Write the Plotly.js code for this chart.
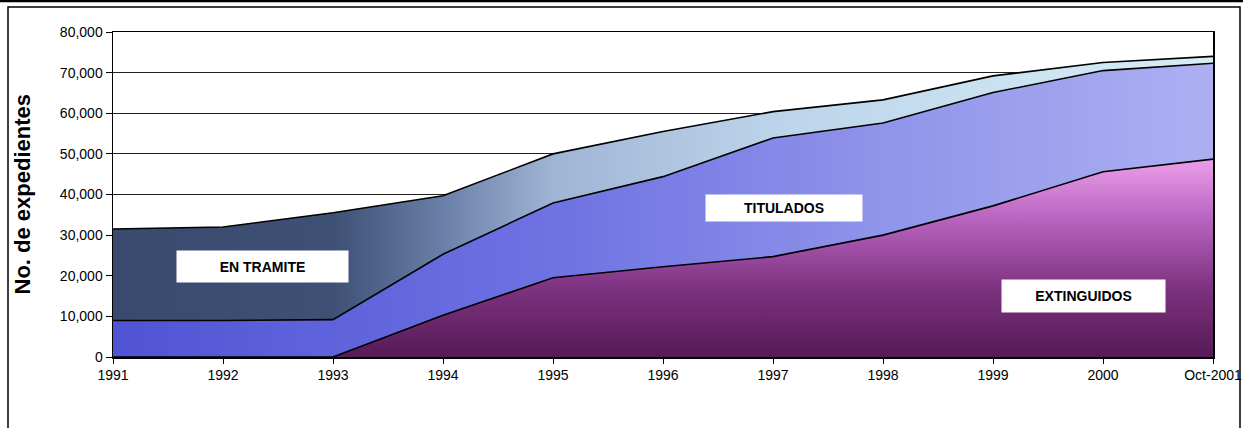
<!DOCTYPE html>
<html>
<head>
<meta charset="utf-8">
<script src="https://cdn.plot.ly/plotly-3.0.1.min.js"></script>
<style>html,body{margin:0;padding:0;background:#fff;}#chart{width:1243px;height:428px;}</style>
</head>
<body>
<div id="chart"></div>
<script>
var categories = ["1991","1992","1993","1994","1995","1996","1997","1998","1999","2000","Oct-2001"];
var extinguidos = [0, 0, 0, 10300, 19500, 22200, 24700, 30000, 37200, 45600, 48700];
var titulados   = [9000, 9000, 9200, 15000, 18400, 22200, 29200, 27600, 27900, 24900, 23600];
var enTramite   = [22500, 23000, 26300, 14400, 12100, 11100, 6500, 5700, 4100, 2000, 1700];
var yTickVals = [0,10000,20000,30000,40000,50000,60000,70000,80000];
var yTickText = ["0","10,000","20,000","30,000","40,000","50,000","60,000","70,000","80,000"];

var L = 113, R = 1213, T = 32, B = 357;
function px(x){ return (x - L) / (R - L); }
function py(y){ return (B - y) / (B - T); }

var lineStyle = {color:'#000', width:1.6, shape:'linear'};
var traces = [
  {x:categories, y:extinguidos, name:'EXTINGUIDOS', type:'scatter', mode:'lines', stackgroup:'one',
   line:lineStyle,
   fillgradient:{type:'vertical', colorscale:[[0,'#561b56'],[0.35,'#7e3280'],[0.7,'#b864c0'],[1,'#ec9eea']]}},
  {x:categories, y:titulados, name:'TITULADOS', type:'scatter', mode:'lines', stackgroup:'one',
   line:lineStyle,
   fillgradient:{type:'horizontal', colorscale:[[0,'#5054d4'],[0.4,'#6e72e2'],[0.7,'#9094ea'],[1,'#acb0f2']]}},
  {x:categories, y:enTramite, name:'EN TRAMITE', type:'scatter', mode:'lines', stackgroup:'one',
   line:lineStyle,
   fillgradient:{type:'horizontal', colorscale:[[0,'#3a4a6e'],[0.2,'#3e5074'],[0.3,'#6a80a8'],[0.4,'#a0b4d4'],[0.6,'#bcd4ea'],[1,'#d8eef6']]}}
];

var fontTick = {family:'Liberation Sans, Arial, sans-serif', size:14, color:'#000'};
var layout = {
  width:1243, height:428,
  margin:{l:L, r:1243-R, t:T, b:428-B, pad:0},
  paper_bgcolor:'#fff', plot_bgcolor:'#fff',
  showlegend:false,
  font:fontTick,
  xaxis:{type:'category', range:[0,10], showgrid:false, zeroline:false,
         showline:true, linecolor:'#000', linewidth:1.5, mirror:true,
         ticks:'outside', ticklen:5, tickcolor:'#000', tickfont:fontTick, fixedrange:true},
  yaxis:{range:[0,80000], tickvals:yTickVals, ticktext:yTickText,
         showgrid:true, gridcolor:'#222', gridwidth:1, zeroline:false,
         showline:true, linecolor:'#000', linewidth:1.5, mirror:true,
         ticks:'outside', ticklen:6, tickcolor:'#000', tickfont:fontTick, fixedrange:true},
  annotations:[
    {xref:'paper', yref:'paper', x:px(22), y:0.5, text:'<b>No. de expedientes</b>', textangle:-90,
     showarrow:false, xanchor:'center', yanchor:'middle',
     font:{family:'Liberation Sans, Arial, sans-serif', size:22, color:'#000'}},
    {xref:'paper', yref:'paper', x:px(262.5), y:py(266.5), text:'<b>EN TRAMITE</b>', showarrow:false,
     xanchor:'center', yanchor:'middle', bgcolor:'#fff', width:171, height:31, borderpad:0,
     font:{family:'Liberation Sans, Arial, sans-serif', size:14, color:'#000'}},
    {xref:'paper', yref:'paper', x:px(784), y:py(208), text:'<b>TITULADOS</b>', showarrow:false,
     xanchor:'center', yanchor:'middle', bgcolor:'#fff', width:156, height:26, borderpad:0,
     font:{family:'Liberation Sans, Arial, sans-serif', size:14, color:'#000'}},
    {xref:'paper', yref:'paper', x:px(1083.5), y:py(296), text:'<b>EXTINGUIDOS</b>', showarrow:false,
     xanchor:'center', yanchor:'middle', bgcolor:'#fff', width:163, height:32, borderpad:0,
     font:{family:'Liberation Sans, Arial, sans-serif', size:14, color:'#000'}}
  ],
  shapes:[
    {type:'rect', xref:'paper', yref:'paper', x0:px(8), x1:px(1240), y0:py(440), y1:py(7),
     line:{color:'#000', width:1.5}, fillcolor:'rgba(0,0,0,0)', layer:'below'},
    {type:'line', xref:'paper', yref:'paper', x0:px(0), x1:px(1243), y0:py(1), y1:py(1),
     line:{color:'#000', width:2.5}}
  ]
};
Plotly.newPlot('chart', traces, layout, {displayModeBar:false, staticPlot:true});
</script>
</body>
</html>
